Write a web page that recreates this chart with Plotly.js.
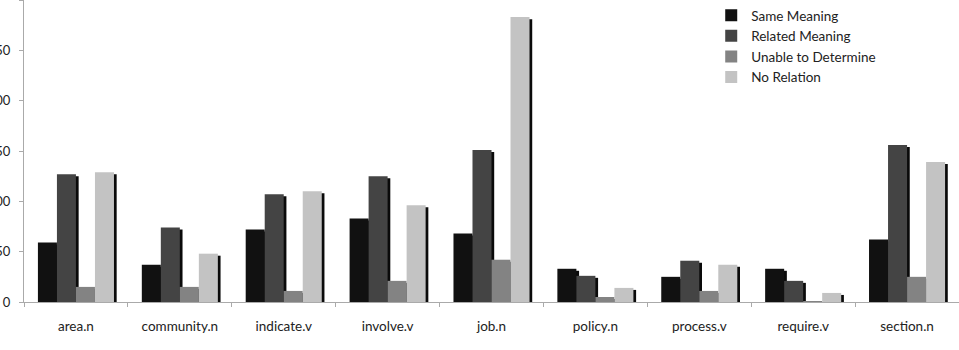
<!DOCTYPE html>
<html>
<head>
<meta charset="utf-8">
<script src="https://cdn.plot.ly/plotly-3.0.1.min.js"></script>
<style>html,body{margin:0;padding:0;background:#fff;}#chart{width:959px;height:350px;}</style>
</head>
<body>
<div id="chart"></div>
<script>
var categories = ["area.n", "community.n", "indicate.v", "involve.v", "job.n", "policy.n", "process.v", "require.v", "section.n"];
var sameMeaning = [59, 37, 72, 83, 68, 33, 25, 33, 62];
var relatedMeaning = [127, 74, 107, 125, 151, 26, 41, 21, 156];
var unableToDetermine = [15, 15, 11, 21, 42, 5, 11, 1, 25];
var noRelation = [129, 48, 110, 96, 283, 14, 37, 9, 139];
var seriesNames = ["Same Meaning", "Related Meaning", "Unable to Determine", "No Relation"];
var yTicks = [0, 50, 100, 150, 200, 250, 300];

var seriesValues = [sameMeaning, relatedMeaning, unableToDetermine, noRelation];
var colors = ["#111111", "#444444", "#838383", "#c3c3c3"];
var barW = 0.183;
var firstOffset = -0.366;
var shadowDx = 0.026;
var shadowDrop = 2;

var traces = [];
// shadows first (drawn underneath)
seriesValues.forEach(function (vals, i) {
  traces.push({
    type: "bar",
    x: categories,
    y: vals.map(function (v) { return Math.max(v - shadowDrop, 0); }),
    width: barW,
    offset: firstOffset + i * barW + shadowDx,
    marker: {color: "#0a0a0a", line: {width: 0}},
    showlegend: false,
    hoverinfo: "skip"
  });
});
seriesValues.forEach(function (vals, i) {
  traces.push({
    type: "bar",
    name: seriesNames[i],
    x: categories,
    y: vals,
    width: barW,
    offset: firstOffset + i * barW,
    marker: {color: colors[i], line: {width: 0}}
  });
});

var layout = {
  width: 959,
  height: 350,
  margin: {l: 24, r: 0, t: 0, b: 48, pad: 0},
  paper_bgcolor: "#ffffff",
  plot_bgcolor: "#ffffff",
  barmode: "overlay",
  font: {family: "Lato, 'Open Sans', sans-serif", size: 13.5, color: "#222222"},
  xaxis: {
    type: "category",
    tickson: "boundaries",
    ticks: "outside",
    ticklen: 4,
    tickcolor: "#aaaaaa",
    showline: true,
    linecolor: "#aaaaaa",
    linewidth: 1,
    showgrid: false,
    zeroline: false,
    automargin: false,
    ticklabelstandoff: 12,
    tickfont: {size: 13.5, color: "#222222"}
  },
  yaxis: {
    range: [0, 300],
    tickvals: yTicks,
    ticktext: yTicks.map(String),
    ticks: "outside",
    ticklen: 4,
    tickcolor: "#aaaaaa",
    showline: true,
    linecolor: "#aaaaaa",
    linewidth: 1,
    showgrid: false,
    zeroline: false,
    automargin: false,
    ticklabelstandoff: 6,
    tickfont: {size: 13, color: "#222222"}
  },
  legend: {
    x: 0.735,
    y: 1.0,
    xanchor: "left",
    yanchor: "top",
    bgcolor: "rgba(0,0,0,0)",
    font: {size: 13.5, color: "#222222"},
    itemwidth: 30
  },
  showlegend: true
};

Plotly.newPlot("chart", traces, layout, {displayModeBar: false, staticPlot: true});
</script>
</body>
</html>
